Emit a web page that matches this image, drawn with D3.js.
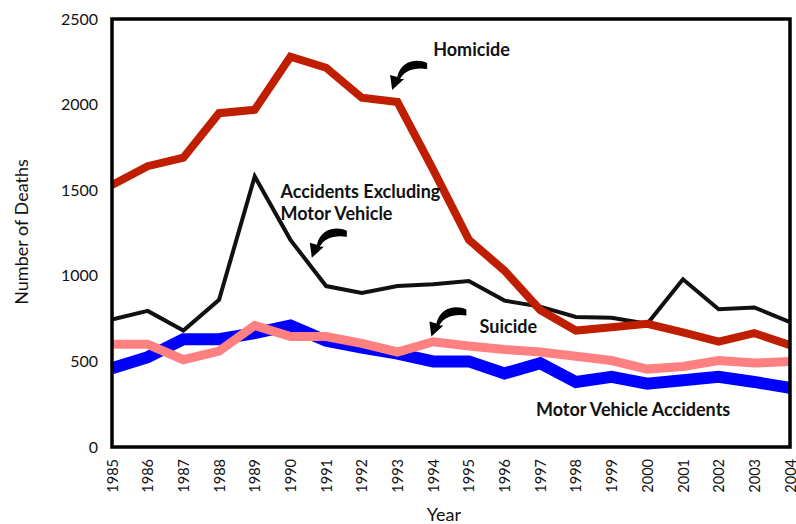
<!DOCTYPE html>
<html>
<head>
<meta charset="utf-8">
<script src="https://cdn.jsdelivr.net/npm/d3@7"></script>
<style>
  body { margin: 0; background: #fff; }
  text { font-family: "Lato", "Open Sans", sans-serif; fill: #111; }
  .tick text { font-size: 16px; }
  .lbl { font-weight: bold; font-size: 18px; }
</style>
</head>
<body>
<div id="chart"></div>
<script>
// Data
var years = d3.range(1985, 2005);
var homicide = [1530, 1640, 1690, 1950, 1970, 2280, 2215, 2040, 2015, 1620, 1210, 1030, 800, 680, 700, 720, 670, 615, 665, 595];
var accidentsExMV = [745, 795, 680, 860, 1580, 1210, 940, 900, 940, 950, 970, 855, 820, 760, 755, 720, 980, 805, 815, 730];
var suicide = [600, 600, 510, 560, 710, 645, 645, 605, 555, 615, 590, 570, 555, 530, 505, 455, 470, 505, 490, 500];
var motorVehicle = [460, 525, 630, 630, 665, 710, 620, 580, 545, 500, 500, 430, 490, 380, 410, 370, 390, 410, 380, 345];
var yTicks = [0, 500, 1000, 1500, 2000, 2500];

// SVG area
var svgWidth = 796;
var svgHeight = 524;
var margin = { top: 19, right: 6, bottom: 77, left: 112 };
var width = svgWidth - margin.left - margin.right;
var height = svgHeight - margin.top - margin.bottom;

var svg = d3.select("#chart")
  .append("svg")
  .attr("width", svgWidth)
  .attr("height", svgHeight);

var chartGroup = svg.append("g")
  .attr("transform", `translate(${margin.left}, ${margin.top})`);

// Scales
var xScale = d3.scaleLinear()
  .domain([1985, 2004])
  .range([0, width]);

var yScale = d3.scaleLinear()
  .domain([0, 2500])
  .range([height, 0]);

// Axes
var bottomAxis = d3.axisBottom(xScale)
  .tickValues(years)
  .tickFormat(d3.format("d"))
  .tickSize(0);
var leftAxis = d3.axisLeft(yScale)
  .tickValues(yTicks)
  .tickFormat(d3.format("d"))
  .tickSize(0);

var xAxisG = chartGroup.append("g")
  .attr("transform", `translate(0, ${height})`)
  .call(bottomAxis);
xAxisG.select(".domain").remove();
xAxisG.selectAll("text")
  .attr("transform", "rotate(-90)")
  .attr("x", -12)
  .attr("y", 0)
  .attr("dy", "0.35em")
  .style("text-anchor", "end")
  .style("font-size", "14.5px");

var yAxisG = chartGroup.append("g").call(leftAxis);
yAxisG.select(".domain").remove();
yAxisG.selectAll("text").attr("x", -14);

// Lines
var line = d3.line()
  .x((d, i) => xScale(years[i]))
  .y(d => yScale(d));

var series = [
  { values: motorVehicle, color: "#0000ff", w: 12 },
  { values: suicide, color: "#ff8080", w: 9 },
  { values: accidentsExMV, color: "#111111", w: 4 },
  { values: homicide, color: "#c01e00", w: 8 }
];

chartGroup.selectAll(".series")
  .data(series)
  .enter()
  .append("path")
  .attr("class", "series")
  .attr("d", s => line(s.values))
  .attr("fill", "none")
  .attr("stroke", s => s.color)
  .attr("stroke-width", s => s.w)
  .attr("stroke-linejoin", "miter");

// Frame
chartGroup.append("rect")
  .attr("x", 0)
  .attr("y", 0)
  .attr("width", width)
  .attr("height", height)
  .attr("fill", "none")
  .attr("stroke", "#000")
  .attr("stroke-width", 3.5);

// Annotations (positioned in data space)
var labels = [
  { lines: ["Homicide"], x: 1994.0, y: 2285 },
  { lines: ["Accidents Excluding", "Motor Vehicle"], x: 1989.72, y: 1455 },
  { lines: ["Suicide"], x: 1995.3, y: 666 },
  { lines: ["Motor Vehicle Accidents"], x: 1996.88, y: 181 }
];

labels.forEach(function(l) {
  var t = chartGroup.append("text")
    .attr("class", "lbl")
    .attr("x", xScale(l.x))
    .attr("y", yScale(l.y));
  l.lines.forEach(function(s, i) {
    t.append("tspan")
      .attr("x", xScale(l.x))
      .attr("dy", i === 0 ? 0 : "1.2em")
      .text(s);
  });
});

// curved arrows: tip in data space, body drawn up and to the right
var arrows = [
  { x: 1992.85, y: 2085 },
  { x: 1990.6, y: 1105 },
  { x: 1993.95, y: 645 }
];

var arrowPath = "M35,-27 C24,-32 9,-29 5,-13 L-2,-15 L0,0 L12,-11 L8,-11 C12,-19 22,-23 35,-21 Z";

chartGroup.selectAll(".arrow")
  .data(arrows)
  .enter()
  .append("path")
  .attr("class", "arrow")
  .attr("d", arrowPath)
  .attr("transform", d => `translate(${xScale(d.x)}, ${yScale(d.y)})`)
  .attr("fill", "#000");

// Axis titles
chartGroup.append("text")
  .attr("transform", "rotate(-90)")
  .attr("x", -(232 - margin.top))
  .attr("y", -margin.left + 28)
  .style("text-anchor", "middle")
  .style("font-size", "18px")
  .text("Number of Deaths");

chartGroup.append("text")
  .attr("x", xScale(1994.3))
  .attr("y", height + 74)
  .style("text-anchor", "middle")
  .style("font-size", "18px")
  .text("Year");
</script>
</body>
</html>
